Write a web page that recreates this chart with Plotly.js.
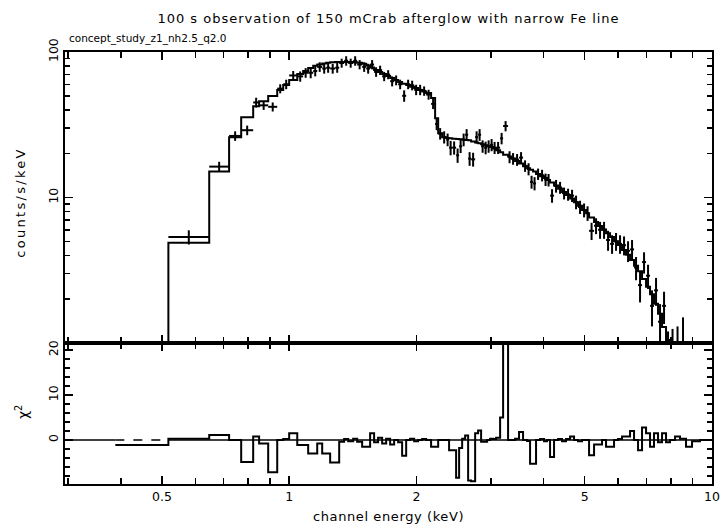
<!DOCTYPE html>
<html>
<head>
<meta charset="utf-8">
<script src="https://cdn.plot.ly/plotly-3.0.1.min.js"></script>
<style>
html,body{margin:0;padding:0;background:#fff;}
#chart{width:725px;height:529px;}
.gtitle{letter-spacing:1px;}
g.annotation[data-index="1"] text{letter-spacing:2.3px;}
g.annotation[data-index="3"] text{letter-spacing:0.6px;}
</style>
</head>
<body>
<div id="chart"></div>
<script>
// Channel energy bin edges (keV)
const energyEdges = [0.388, 0.518, 0.647, 0.721, 0.770, 0.822, 0.849, 0.892, 0.937, 0.968, 1.000, 1.045, 1.079, 1.109, 1.140, 1.165, 1.197, 1.223, 1.250, 1.285, 1.313, 1.349, 1.379, 1.417, 1.448, 1.488, 1.521, 1.554, 1.588, 1.623, 1.659, 1.696, 1.733, 1.771, 1.810, 1.850, 1.891, 1.932, 1.975, 2.018, 2.063, 2.108, 2.166, 2.214, 2.251, 2.300, 2.351, 2.389, 2.429, 2.482, 2.523, 2.565, 2.607, 2.650, 2.693, 2.753, 2.798, 2.844, 2.891, 2.939, 2.987, 3.036, 3.086, 3.154, 3.206, 3.294, 3.348, 3.422, 3.497, 3.574, 3.653, 3.713, 3.774, 3.836, 3.921, 4.007, 4.073, 4.140, 4.231, 4.325, 4.420, 4.517, 4.617, 4.718, 4.822, 4.928, 5.037, 5.120, 5.261, 5.377, 5.495, 5.616, 5.740, 5.866, 5.995, 6.127, 6.262, 6.400, 6.541, 6.685, 6.832, 6.983, 7.136, 7.293, 7.454, 7.618, 7.786, 7.957, 8.177, 8.402, 8.681, 8.970, 9.369, 10.0];

// Folded model (counts/s/keV)
const modelRate = [0.6, 4.88, 15.1, 25.9, 35.6, 42.4, 45.9, 49.8, 54.7, 59.3,
  64.2, 70.7, 74.1, 77.7, 80.3, 82.2, 83.5, 84.2, 84.9, 85.5,
  85.5, 85.5, 85.5, 84.9, 84.2, 82.9, 80.9, 78.4, 75.3, 73.0,
  70.7, 68.4, 66.3, 64.2, 62.2, 60.6, 59.3, 57.8, 56.5, 54.7,
  53.5, 52.2, 48.2, 35.0, 27.6, 25.9, 25.6, 25.5, 25.3, 25.2,
  25.1, 24.9, 24.8, 24.7, 24.3, 23.9, 23.6, 23.2, 22.9, 22.6,
  22.2, 21.7, 21.1, 20.5, 19.7, 19.1, 18.5, 17.8, 17.1, 16.4,
  15.9, 15.5, 15.1, 14.5, 14.0, 13.6, 13.2, 12.7, 12.1, 11.5,
  10.9, 10.4, 9.83, 9.28, 8.76, 8.22, 7.78, 7.29, 6.79, 6.37,
  6.02, 5.68, 5.35, 5.01, 4.71, 4.36, 4.04, 3.72, 3.40, 3.11,
  2.75, 2.44, 2.16, 1.86, 1.59, 1.29, 1.05, 0.84, 0.65, 0.47,
  0.35, 0.25, 0.15];

// Observed data (counts/s/keV) and 1-sigma errors
const dataRate = [0.55, 5.35, 16.3, 26.5, 29, 45, 43, 42, 56, 60,
  69, 68, 72, 72, 74, 79, 77, 78, 77, 78,
  84, 87, 84, 87, 82, 79, 77, 82, 73, 75,
  68, 70, 63, 64, 60, 50, 60, 59, 55, 55,
  54, 51, 44, 32, 27.5, 26, 25, 22, 22, 19.5,
  22.5, 25, 27, 18.5, 18.3, 26, 27, 22.5, 22, 22.5,
  23, 22, 22, 25.5, 31, 19, 18.5, 18.2, 18.8, 16.5,
  15.7, 12.8, 12.5, 14.5, 14.2, 13.3, 13.2, 10.3, 12, 11.7,
  10.7, 10.5, 10.3, 9.3, 8.6, 8.2, 7.8, 5.9, 6.4, 6.0,
  6.0, 5.1, 4.8, 5.0, 4.8, 4.7, 4.3, 4.4, 3.3, 2.5,
  3.6, 2.9, 1.8, 2.3, 1.4, 1.8, 0.8, 0.85, 0.9, 1.0,
  0.2, 0.2, 0.15];

const dataErr = [0.25, 0.6, 1.3, 2.0, 2.2, 3.5, 3.0, 3.0, 4.0, 4.5,
  5.0, 5.5, 5.5, 6.0, 6.0, 6.0, 6.0, 6.0, 6.0, 6.0,
  6.0, 6.5, 6.0, 6.5, 6.0, 6.0, 6.0, 6.0, 5.5, 5.5,
  5.0, 5.0, 5.0, 5.0, 4.5, 4.5, 4.5, 4.5, 4.5, 4.5,
  4.0, 4.0, 3.5, 3.0, 2.5, 2.5, 2.5, 2.5, 2.3, 2.2,
  2.3, 2.5, 2.5, 2.0, 2.0, 2.5, 2.5, 2.2, 2.2, 2.2,
  2.2, 2.1, 2.1, 2.3, 2.5, 1.8, 1.7, 1.7, 1.7, 1.5,
  1.5, 1.3, 1.3, 1.3, 1.3, 1.3, 1.3, 1.1, 1.2, 1.1,
  1.0, 1.0, 1.0, 1.0, 0.9, 0.9, 0.9, 0.8, 0.8, 0.8,
  0.8, 0.8, 0.7, 0.7, 0.7, 0.7, 0.7, 0.7, 0.6, 0.6,
  0.6, 0.55, 0.5, 0.5, 0.45, 0.45, 0.4, 0.4, 0.4, 0.5,
  0.3, 0.3, 0.3];

// Signed chi-squared contribution per bin
const chiSq = [-1.1, 0.3, 1.1, 0, -4.9, 0.8, -0.8, -7.2, 0, 0.2,
  1.5, -1.1, -1.1, -3, -3, -0.8, -3, -3, -5, -5,
  -0.4, 0.2, -0.3, 0.3, -0.4, -1.5, -1.5, 1.5, -0.5, 0.5,
  -0.8, 0.3, -1, 0, -0.5, -3.5, 0, 0.3, -0.3, 0,
  0.2, 0, -1.5, -1.5, 0, 0, 0, -2.3, -2.3, -8.4,
  -1.8, 0.3, 1, -9, -9.2, 1.5, 2.1, -0.4, -0.4, 0,
  0.3, 0.2, 0.5, 5, 22, 0, 0, 0.3, 1.8, 0,
  -0.2, -5.3, -5.3, 0, 0.2, -0.3, 0, -3.8, 0, 0.2,
  -0.3, 0.2, 0.8, 0, -0.3, 0, 0, -3.4, -1, -1,
  0, -1.5, -1.5, 0, 0.2, 0.8, 0.8, 2, 0, -2.3,
  2.8, 1.5, -1.5, 1.5, -0.5, 1.5, -0.5, 0, 0.8, 0.3,
  -1.5, -0.3, 0];

const xTickVals = [0.5, 1, 2, 5, 10];
const xTickText = ['0.5', '1', '2', '5', '10'];
const xMinorVals = [0.3, 0.4, 0.6, 0.7, 0.8, 0.9, 3, 4, 6, 7, 8, 9];
const yTopTickVals = [10, 100];
const yTopTickText = ['10', '100'];
const yTopMinor = [2, 3, 4, 5, 6, 7, 8, 9, 20, 30, 40, 50, 60, 70, 80, 90];
const yBotTickVals = [0, 10, 20];
const yBotMinor = [-8, -6, -4, -2, 2, 4, 6, 8, 12, 14, 16, 18];

const xRange = [Math.log10(0.295), 1];

const lo = energyEdges.slice(0, -1);
const hi = energyEdges.slice(1);
const centers = lo.map((l, i) => Math.sqrt(l * hi[i]));
const stepX = energyEdges;
const modelStep = modelRate.concat([modelRate[modelRate.length - 1]]);
const chiStep = chiSq.concat([chiSq[chiSq.length - 1]]);

const black = '#000';
const traces = [
  {
    x: centers, y: dataRate, type: 'scatter', mode: 'markers',
    marker: {size: 1, color: black},
    error_x: {type: 'data', symmetric: false, array: centers.map((c, i) => hi[i] - c),
              arrayminus: centers.map((c, i) => c - lo[i]), color: black, thickness: 2, width: 0},
    error_y: {type: 'data', array: dataErr, color: black, thickness: 2, width: 0},
    xaxis: 'x', yaxis: 'y', hoverinfo: 'skip', showlegend: false
  },
  {
    x: stepX, y: modelStep, type: 'scatter', mode: 'lines',
    line: {shape: 'hv', color: black, width: 2},
    xaxis: 'x', yaxis: 'y', showlegend: false
  },
  {
    x: [Math.pow(10, xRange[0]), energyEdges[0]], y: [0, 0], type: 'scatter', mode: 'lines',
    line: {color: black, width: 1.6}, xaxis: 'x2', yaxis: 'y2', showlegend: false
  },
  {
    x: [energyEdges[1], 10], y: [0, 0], type: 'scatter', mode: 'lines',
    line: {color: black, width: 1.6}, xaxis: 'x2', yaxis: 'y2', showlegend: false
  },
  {
    x: [energyEdges[0], energyEdges[1]], y: [0, 0], type: 'scatter', mode: 'lines',
    line: {color: black, width: 1.6, dash: 'dash'}, xaxis: 'x2', yaxis: 'y2', showlegend: false
  },
  {
    x: stepX, y: chiStep, type: 'scatter', mode: 'lines',
    line: {shape: 'hv', color: black, width: 2},
    xaxis: 'x2', yaxis: 'y2', showlegend: false
  }
];

const tickFont = {family: 'DejaVu Sans, sans-serif', size: 12.5, color: black};
const commonX = {
  type: 'log', range: xRange, showline: true, linecolor: black, linewidth: 2,
  mirror: 'allticks', ticks: 'inside', ticklen: 8, tickwidth: 1.5, tickcolor: black,
  tickmode: 'array', tickvals: xTickVals, ticktext: xTickText,
  minor: {tickmode: 'array', tickvals: xMinorVals, ticks: 'inside', ticklen: 6, tickwidth: 1.5, tickcolor: black, showgrid: false},
  showgrid: false, zeroline: false, tickfont: tickFont
};

const layout = {
  width: 725, height: 529,
  margin: {l: 65, r: 13, t: 52, b: 45},
  paper_bgcolor: '#fff', plot_bgcolor: '#fff',
  showlegend: false,
  title: {text: '100 s observation of 150 mCrab afterglow with narrow Fe line',
          font: {family: 'DejaVu Sans, sans-serif', size: 13, color: black},
          x: 0.5, xref: 'paper', xanchor: 'center', y: 1 - 18 / 529, yref: 'container', yanchor: 'middle'},
  xaxis: Object.assign({}, commonX, {anchor: 'y', showticklabels: false}),
  xaxis2: Object.assign({}, commonX, {anchor: 'y2', matches: 'x', showticklabels: true}),
  yaxis: {
    domain: [0.3264, 1], type: 'log', range: [0, 2], anchor: 'x',
    showline: true, linecolor: black, linewidth: 2, mirror: 'allticks',
    ticks: 'inside', ticklen: 8, tickwidth: 1.5, tickcolor: black,
    tickmode: 'array', tickvals: yTopTickVals, ticktext: yTopTickText, tickangle: -90,
    minor: {tickmode: 'array', tickvals: yTopMinor, ticks: 'inside', ticklen: 5, tickwidth: 1.5, tickcolor: black, showgrid: false},
    showgrid: false, zeroline: false, tickfont: tickFont
  },
  yaxis2: {
    domain: [0, 0.3264], range: [-9.8, 21.6], anchor: 'x2',
    showline: true, linecolor: black, linewidth: 2, mirror: 'allticks',
    ticks: 'inside', ticklen: 8, tickwidth: 1.5, tickcolor: black,
    tickmode: 'array', tickvals: yBotTickVals, tickangle: -90,
    minor: {tickmode: 'array', tickvals: yBotMinor, ticks: 'inside', ticklen: 5, tickwidth: 1.5, tickcolor: black, showgrid: false},
    showgrid: false, zeroline: false, tickfont: tickFont
  },
  annotations: [
    {text: 'concept_study_z1_nh2.5_q2.0', xref: 'paper', yref: 'paper', x: 0, y: 1.032,
     xanchor: 'left', yanchor: 'middle', xshift: 2, showarrow: false,
     font: {family: 'DejaVu Sans, sans-serif', size: 10.5, color: black}},
    {text: 'counts/s/keV', xref: 'paper', yref: 'paper', x: (20 - 65) / 647, y: (484 - 203) / 432,
     xanchor: 'center', yanchor: 'middle', textangle: -90, showarrow: false,
     font: {family: 'DejaVu Sans, sans-serif', size: 13, color: black}},
    {text: '\u03c7<sup>2</sup>', xref: 'paper', yref: 'paper', x: (22 - 65) / 647, y: (484 - 412) / 432,
     xanchor: 'center', yanchor: 'middle', textangle: -90, showarrow: false,
     font: {family: 'DejaVu Sans, sans-serif', size: 14, color: black}},
    {text: 'channel energy (keV)', xref: 'paper', yref: 'paper', x: 0.5, y: (484 - 516) / 432,
     xanchor: 'center', yanchor: 'middle', showarrow: false,
     font: {family: 'DejaVu Sans, sans-serif', size: 13, color: black}}
  ]
};

Plotly.newPlot('chart', traces, layout, {staticPlot: true, displayModeBar: false});
</script>
</body>
</html>
